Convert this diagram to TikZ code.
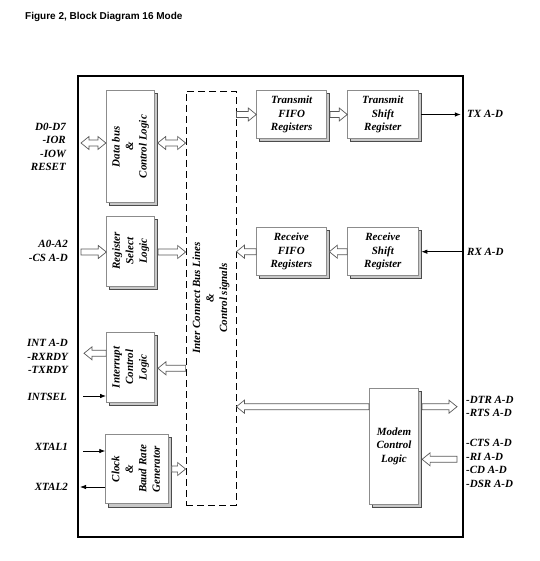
\documentclass[tikz,border=0pt]{standalone}
\usepackage{fontspec}
\usepackage{graphicx}
\setmainfont{Liberation Serif}
\newfontfamily\titlefont{Liberation Sans}
\usetikzlibrary{arrows.meta,shadows,calc}
\definecolor{blockgray}{HTML}{8C8C8C}
\definecolor{shadowgray}{HTML}{C8C8C8}
\definecolor{arrowgray}{HTML}{5A5A5A}
\newcommand\lbl{\fontsize{11}{13.5}\selectfont\bfseries\itshape}
\newcommand\rot[1]{\rotatebox{90}{\begin{tabular}{@{}c@{}}#1\end{tabular}}}
\begin{document}
\begin{tikzpicture}[x=1pt,y=-1pt,
  block/.style={draw=blockgray, fill=white, line width=0.8pt, inner sep=0pt, align=center, font=\lbl,
    copy shadow={shadow xshift=3pt, shadow yshift=-3pt, fill=shadowgray, draw=black!70, line width=0.6pt}},
  hollowarrow/.style={draw=arrowgray, fill=white, line width=0.7pt, line join=miter,
    to path={let \p1=(\tikztostart), \p2=(\tikztotarget), \n1={8*sign(\x2-\x1)} in
      (\x1,\y1+3pt) -- (\x2-\n1,\y1+3pt) -- (\x2-\n1,\y1+6.5pt) -- (\x2,\y1) -- (\x2-\n1,\y1-6.5pt) -- (\x2-\n1,\y1-3pt) -- (\x1,\y1-3pt) -- cycle}},
  hollowboth/.style={draw=arrowgray, fill=white, line width=0.7pt, line join=miter,
    to path={let \p1=(\tikztostart), \p2=(\tikztotarget), \n1={8*sign(\x2-\x1)} in
      (\x1,\y1) -- (\x1+\n1,\y1+6.5pt) -- (\x1+\n1,\y1+3pt) -- (\x2-\n1,\y1+3pt) -- (\x2-\n1,\y1+6.5pt) -- (\x2,\y1) -- (\x2-\n1,\y1-6.5pt) -- (\x2-\n1,\y1-3pt) -- (\x1+\n1,\y1-3pt) -- (\x1+\n1,\y1-6.5pt) -- cycle}},
  sigarrow/.style={draw=black, line width=0.8pt, -{Latex[length=6pt,width=4.5pt]}},
  lblL/.style={anchor=east, align=right, font=\lbl, inner sep=0pt},
  lblR/.style={anchor=west, align=left, font=\lbl, inner sep=0pt}
]
\useasboundingbox[fill=white] (0,0) rectangle (539,561);

\node[anchor=west, inner sep=0pt, font=\titlefont\fontsize{10}{12}\selectfont\bfseries] (title) at (25,17) {Figure 2, Block Diagram 16 Mode};

% outer frame
\node[draw, line width=1.6pt, minimum width=385pt, minimum height=461pt, inner sep=0pt] (outer) at (270.5,306.5) {};

% bus
\node[draw, line width=0.8pt, dash pattern=on 7pt off 4pt, minimum width=50pt, minimum height=414pt, inner sep=0pt, font=\lbl] (bus) at (211,298)
  {\rot{Inter Connect Bus Lines\\\&\\Control signals}};

% blocks
\node[block, minimum width=48pt, minimum height=112pt] (databus) at (130.3,146.7) {\rot{Data bus\\\&\\Control Logic}};
\node[block, minimum width=48pt, minimum height=70pt] (regsel) at (130.7,251) {\rot{Register\\Select\\Logic}};
\node[block, minimum width=48pt, minimum height=70pt] (intr) at (130.5,367.3) {\rot{Interrupt\\Control\\Logic}};
\node[block, minimum width=62.6pt, minimum height=69.7pt] (clock) at (137,469) {\rot{Clock\\\&\\Baud Rate\\Generator}};
\node[block, minimum width=70pt, minimum height=47.6pt] (txfifo) at (291.7,114.5) {Transmit\\FIFO\\Registers};
\node[block, minimum width=70.3pt, minimum height=47.6pt] (txshift) at (382.8,114.5) {Transmit\\Shift\\Register};
\node[block, minimum width=69.3pt, minimum height=48pt] (rxfifo) at (291.3,251.7) {Receive\\FIFO\\Registers};
\node[block, minimum width=70.3pt, minimum height=48pt] (rxshift) at (382.8,251.7) {Receive\\Shift\\Register};
\node[block, minimum width=49.4pt, minimum height=115.7pt] (modem) at (394,446.2) {Modem\\Control\\Logic};

% free ends
\coordinate (dIn) at (81,143);
\coordinate (aIn) at (81,252);
\coordinate (intOut) at (84,353.3);
\coordinate (intBus) at (186,368.3);
\coordinate (intselIn) at (83,396);
\coordinate (x1In) at (83,451);
\coordinate (x2Out) at (80,487);
\coordinate (modBus) at (236,406.7);
\coordinate (dtrOut) at (457,406.7);
\coordinate (ctsIn) at (457,459.3);

% hollow connectors
\draw[hollowboth] (dIn) to (databus.west |- dIn);
\draw[hollowboth] ([xshift=3pt]databus.east |- dIn) to (bus.west |- dIn);
\draw[hollowarrow] (aIn) to (regsel.west |- aIn);
\draw[hollowarrow] ([xshift=3pt]regsel.east |- aIn) to (bus.west |- aIn);
\draw[hollowarrow] (bus.east |- txfifo.west) to (txfifo.west);
\draw[hollowarrow] ([xshift=3pt]txfifo.east) to (txshift.west);
\draw[hollowarrow] (rxshift.west) to ([xshift=3pt]rxfifo.east);
\draw[hollowarrow] (rxfifo.west) to (bus.east |- rxfifo.west);
\draw[hollowarrow] (intr.west |- intOut) to (intOut);
\draw[hollowarrow] (bus.west |- intBus) to ([xshift=3pt]intr.east |- intBus);
\draw[hollowarrow] ([xshift=3pt]clock.east) to (bus.west |- clock.east);
\draw[hollowarrow] (modem.west |- modBus) to (bus.east |- modBus);
\draw[hollowarrow] ([xshift=3pt]modem.east |- dtrOut) to (dtrOut);
\draw[hollowarrow] (ctsIn) to ([xshift=3pt]modem.east |- ctsIn);

% signal connectors
\draw[sigarrow] ([xshift=3pt]txshift.east) -- ([xshift=-3pt]outer.east |- txshift.east);
\draw[sigarrow] ([xshift=-1pt]outer.east |- rxshift.east) -- ([xshift=3pt]rxshift.east);
\draw[sigarrow] (intselIn) -- (intr.west |- intselIn);
\draw[sigarrow] (x1In) -- (clock.west |- x1In);
\draw[sigarrow] (clock.west |- x2Out) -- (x2Out);

% labels left
\node[lblL] (lD) at (66,146.8) {D0-D7\\-IOR\\-IOW\\RESET};
\node[lblL] (lA) at (68,250.7) {A0-A2\\-CS A-D};
\node[lblL] (lInt) at (68,356.7) {INT A-D\\-RXRDY\\-TXRDY};
\node[lblL] (lSel) at (67,396.7) {INTSEL};
\node[lblL] (lX1) at (68,446.7) {XTAL1};
\node[lblL] (lX2) at (68,487.3) {XTAL2};

% labels right
\node[lblR] (lTX) at (467,114.3) {TX A-D};
\node[lblR] (lRX) at (467,251.7) {RX A-D};
\node[lblR] (lDTR) at (466,406.3) {-DTR A-D\\-RTS A-D};
\node[lblR] (lCTS) at (466,463.5) {-CTS A-D\\-RI A-D\\-CD A-D\\-DSR A-D};
\end{tikzpicture}
\end{document}
